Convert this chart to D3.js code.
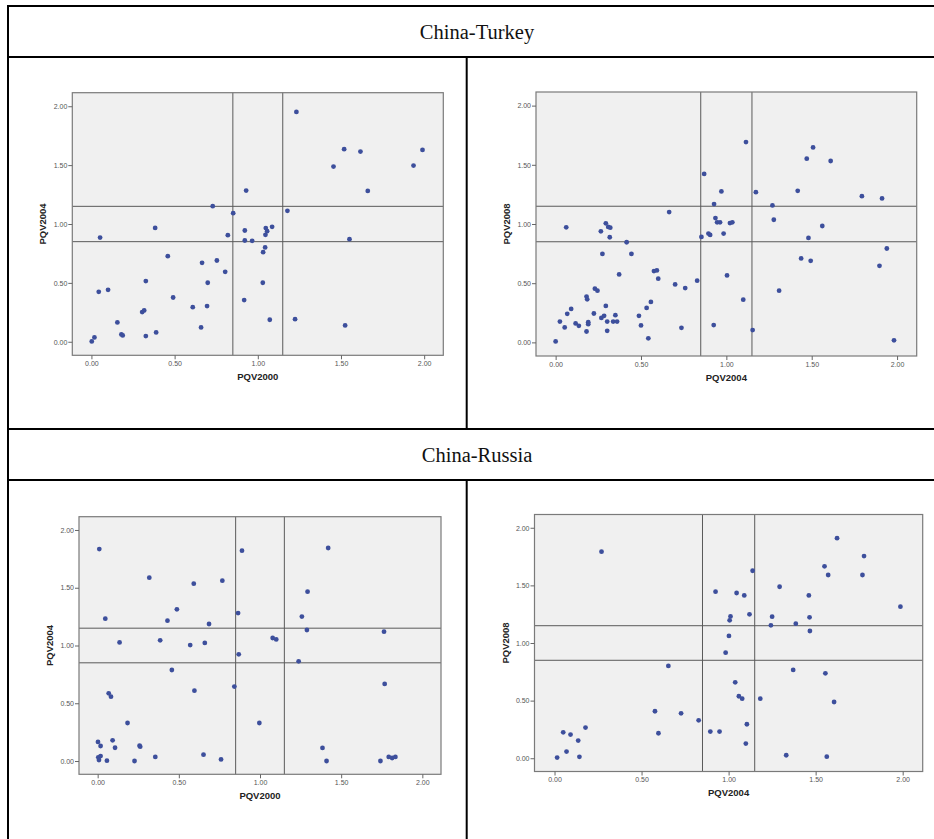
<!DOCTYPE html>
<html>
<head>
<meta charset="utf-8">
<script src="https://cdn.jsdelivr.net/npm/d3@7/dist/d3.min.js"></script>
<style>
html,body{margin:0;padding:0;background:#fff;}
svg{display:block;}
</style>
</head>
<body>
<svg id="chart" width="934" height="839"></svg>
<script>
// ---------- data ----------
const sectionTitles = ["China-Turkey", "China-Russia"];
const tickValues = [0, 0.5, 1, 1.5, 2];
const refLines = [0.85, 1.15];

// China-Turkey: PQV2000 vs PQV2004
const ctA_x = [1.232,1.519,1.617,1.990,1.455,1.936,1.661,0.930,0.729,0.852,1.178,0.383,0.052,0.820,0.922,1.048,1.086,1.056,1.046,0.922,0.966,1.551,1.044,1.032,0.459,0.665,0.754,0.804,0.327,0.699,1.030,0.044,0.100,0.491,0.918,0.609,0.695,0.305,0.317,0.156,0.659,1.072,1.224,1.525,0.180,0.188,0.327,0.389,0.018,0.002];
const ctA_y = [1.952,1.635,1.615,1.629,1.488,1.496,1.281,1.284,1.151,1.092,1.112,0.967,0.885,0.905,0.945,0.965,0.976,0.939,0.908,0.860,0.857,0.871,0.801,0.761,0.727,0.670,0.690,0.594,0.515,0.501,0.501,0.424,0.441,0.376,0.354,0.294,0.303,0.252,0.266,0.164,0.122,0.187,0.192,0.139,0.062,0.054,0.048,0.079,0.037,0.003];

// China-Turkey: PQV2004 vs PQV2008
const ctB_x = [1.115,1.508,1.471,1.611,0.870,0.971,1.173,1.418,1.794,1.912,0.928,1.270,0.665,1.278,0.936,0.946,0.963,1.021,1.035,1.562,0.062,0.294,0.308,0.320,0.265,0.317,0.854,0.895,0.905,0.984,1.481,0.416,0.274,0.444,1.438,1.494,1.940,1.897,0.372,1.004,0.576,0.593,0.601,0.700,0.759,0.829,1.309,1.099,0.230,0.245,0.181,0.185,0.558,0.533,0.091,0.294,0.068,0.224,0.025,0.053,0.117,0.136,0.181,0.191,0.191,0.268,0.284,0.302,0.302,0.337,0.360,0.350,0.488,0.500,0.543,0.737,0.926,1.154,1.982,0.000];
const ctB_y = [1.692,1.647,1.552,1.532,1.423,1.275,1.269,1.280,1.235,1.216,1.168,1.157,1.101,1.036,1.050,1.014,1.014,1.008,1.014,0.983,0.972,1.006,0.975,0.969,0.938,0.888,0.891,0.919,0.908,0.919,0.882,0.846,0.748,0.748,0.709,0.689,0.793,0.647,0.574,0.566,0.602,0.608,0.538,0.490,0.459,0.521,0.437,0.361,0.454,0.437,0.387,0.364,0.342,0.291,0.283,0.308,0.241,0.244,0.176,0.126,0.160,0.140,0.092,0.171,0.154,0.207,0.224,0.176,0.098,0.176,0.176,0.230,0.224,0.143,0.034,0.123,0.146,0.104,0.017,0.008];

// China-Russia: PQV2000 vs PQV2004
const crA_x = [0.010,0.889,1.420,0.318,0.592,0.768,1.293,0.488,0.865,0.047,0.430,1.258,0.686,1.289,1.764,1.078,1.100,0.135,0.385,0.570,0.660,0.869,1.238,0.457,0.842,0.596,1.768,0.068,0.082,0.184,0.996,0.002,0.018,0.092,0.107,0.258,0.262,0.355,0.227,0.057,0.004,0.018,0.008,0.652,0.760,1.385,1.410,1.742,1.793,1.814,1.834];
const crA_y = [1.835,1.821,1.844,1.587,1.535,1.561,1.466,1.313,1.281,1.232,1.215,1.250,1.186,1.134,1.120,1.065,1.053,1.027,1.045,1.004,1.022,0.924,0.863,0.788,0.644,0.609,0.667,0.586,0.557,0.329,0.329,0.165,0.130,0.179,0.115,0.133,0.124,0.035,0.000,0.003,0.032,0.043,0.009,0.055,0.014,0.113,0.000,0.000,0.035,0.026,0.035];

// China-Russia: PQV2004 vs PQV2008
const crB_x = [1.623,0.270,1.778,1.138,1.551,1.572,1.769,1.293,0.925,1.046,1.090,1.461,1.987,1.120,1.011,1.006,1.250,1.465,1.243,1.386,1.467,1.002,0.983,0.654,1.371,1.556,1.038,1.059,1.078,1.182,1.606,0.577,0.727,0.828,1.105,0.597,0.895,0.948,1.099,1.331,1.564,0.050,0.092,0.178,0.136,0.069,0.143,0.015];
const crB_y = [1.910,1.792,1.754,1.627,1.665,1.590,1.590,1.488,1.445,1.434,1.413,1.413,1.315,1.249,1.231,1.197,1.228,1.223,1.153,1.168,1.104,1.061,0.916,0.801,0.766,0.737,0.659,0.538,0.517,0.517,0.488,0.408,0.390,0.329,0.295,0.217,0.231,0.231,0.127,0.026,0.014,0.225,0.205,0.266,0.153,0.058,0.012,0.006];

const panels = [
  {xs: ctA_x, ys: ctA_y, xLabel: "PQV2000", yLabel: "PQV2004", box: {x0: 72.3, x1: 443.3, y0: 92.7, y1: 355.3}},
  {xs: ctB_x, ys: ctB_y, xLabel: "PQV2004", yLabel: "PQV2008", box: {x0: 536, x1: 916.7, y0: 92, y1: 356}},
  {xs: crA_x, ys: crA_y, xLabel: "PQV2000", yLabel: "PQV2004", box: {x0: 79, x1: 441, y0: 516.7, y1: 774.3}},
  {xs: crB_x, ys: crB_y, xLabel: "PQV2004", yLabel: "PQV2008", box: {x0: 534.5, x1: 922.7, y0: 514.5, y1: 771.5}}
];

// ---------- drawing ----------
const svg = d3.select("#chart");
svg.append("rect").attr("width", 934).attr("height", 839).attr("fill", "#fff");

const domain = [-0.115, 2.115];
const fmt = d3.format(".2f");

panels.forEach(p => {
  const b = p.box;
  const x = d3.scaleLinear().domain(domain).range([b.x0, b.x1]);
  const y = d3.scaleLinear().domain(domain).range([b.y1, b.y0]);
  const g = svg.append("g");

  g.append("rect")
    .attr("x", b.x0).attr("y", b.y0)
    .attr("width", b.x1 - b.x0).attr("height", b.y1 - b.y0)
    .attr("fill", "#f0f0f0");

  // reference lines
  refLines.forEach(v => {
    g.append("line").attr("x1", x(v)).attr("x2", x(v)).attr("y1", b.y0).attr("y2", b.y1)
      .attr("stroke", "#5a5a5a").attr("stroke-width", 1);
    g.append("line").attr("x1", b.x0).attr("x2", b.x1).attr("y1", y(v)).attr("y2", y(v))
      .attr("stroke", "#5a5a5a").attr("stroke-width", 1);
  });

  g.append("rect")
    .attr("x", b.x0).attr("y", b.y0)
    .attr("width", b.x1 - b.x0).attr("height", b.y1 - b.y0)
    .attr("fill", "none").attr("stroke", "#7a7a7a").attr("stroke-width", 1.2);

  const xAxis = g.append("g").attr("transform", `translate(0,${b.y1})`)
    .call(d3.axisBottom(x).tickValues(tickValues).tickFormat(fmt).tickSize(4).tickPadding(2));
  const yAxis = g.append("g").attr("transform", `translate(${b.x0},0)`)
    .call(d3.axisLeft(y).tickValues(tickValues).tickFormat(fmt).tickSize(4).tickPadding(1));
  [xAxis, yAxis].forEach(a => {
    a.select(".domain").remove();
    a.selectAll(".tick line").attr("stroke", "#666");
    a.selectAll(".tick text").attr("fill", "#555")
      .style("font-family", "'Liberation Sans', Arial, sans-serif").style("font-size", "7px");
  });

  // points
  g.selectAll("circle.pt").data(p.xs.map((v, i) => [v, p.ys[i]]))
    .enter().append("circle")
    .attr("class", "pt")
    .attr("cx", d => x(d[0])).attr("cy", d => y(d[1]))
    .attr("r", 2.4)
    .attr("fill", "#3d4f9c");

  // axis titles
  g.append("text")
    .attr("x", (b.x0 + b.x1) / 2).attr("y", b.y1 + 24.5)
    .attr("text-anchor", "middle")
    .style("font-family", "'Liberation Sans', Arial, sans-serif")
    .style("font-size", "9.5px").style("font-weight", "bold").attr("fill", "#222")
    .text(p.xLabel);
  g.append("text")
    .attr("transform", `translate(${b.x0 - 26},${(b.y0 + b.y1) / 2}) rotate(-90)`)
    .attr("text-anchor", "middle")
    .style("font-family", "'Liberation Sans', Arial, sans-serif")
    .style("font-size", "9.5px").style("font-weight", "bold").attr("fill", "#222")
    .text(p.yLabel);
});

// ---------- table grid ----------
const tbl = svg.append("g").attr("stroke", "#000").attr("stroke-width", 2);
const xL = 8, xMid = 466.7, xR = 946;
[6, 57, 429, 480].forEach(yy => {
  tbl.append("line").attr("x1", xL - 1).attr("x2", xR).attr("y1", yy).attr("y2", yy);
});
tbl.append("line").attr("x1", xL).attr("x2", xL).attr("y1", 5).attr("y2", 845);
tbl.append("line").attr("x1", xMid).attr("x2", xMid).attr("y1", 57).attr("y2", 429);
tbl.append("line").attr("x1", xMid).attr("x2", xMid).attr("y1", 480).attr("y2", 845);

// section headers
const headerBaselines = [38.7, 461.7];
sectionTitles.forEach((t, i) => {
  svg.append("text")
    .attr("x", (xL + xR) / 2).attr("y", headerBaselines[i])
    .attr("text-anchor", "middle")
    .style("font-family", "'Liberation Serif', 'Times New Roman', serif")
    .style("font-size", "20.5px").attr("fill", "#111")
    .text(t);
});
</script>
</body>
</html>
